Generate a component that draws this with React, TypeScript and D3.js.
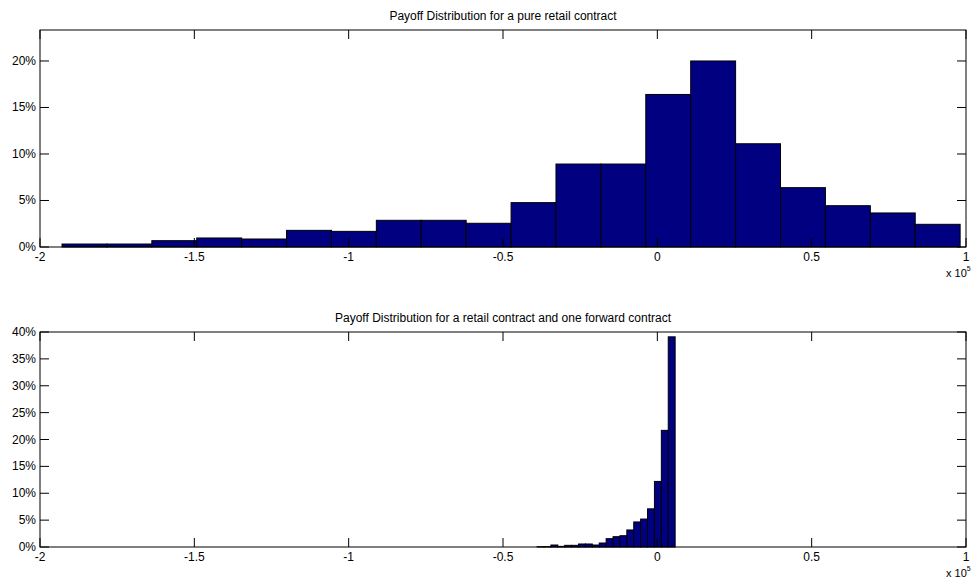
import React from "react";
import * as d3 from "d3";

// bin counts (share of scenarios)
const retailShares = [
	0.0032, 0.0032, 0.0068, 0.0097, 0.0086, 0.0179, 0.0168, 0.0287, 0.0287, 0.0255,
	0.0477, 0.0892, 0.0892, 0.164, 0.2, 0.111, 0.0638, 0.0444, 0.0366, 0.0244,
];
const retailRange = [-1.9287, 0.981]; // x 10^5

const hedgedShares = [
	0.0006, 0.0006, 0.0037, 0.0012, 0.0031, 0.0031, 0.0056, 0.0056, 0.0037, 0.0074,
	0.0155, 0.0192, 0.021, 0.0317, 0.0466, 0.052, 0.071, 0.122, 0.217, 0.391,
];
const hedgedRange = [-0.3895, 0.0577];

const xTicks = [-2, -1.5, -1, -0.5, 0, 0.5, 1];
const topYTicks = [0, 0.05, 0.1, 0.15, 0.2];
const bottomYTicks = [0, 0.05, 0.1, 0.15, 0.2, 0.25, 0.3, 0.35, 0.4];

const W = 972;
const H = 587;
const font = "'Liberation Sans', Arial, sans-serif";
const TICK = 9;

const Panel = ({ title, shares, range, yMax, yTicks, top, bottom }) => {
	const x = d3.scaleLinear().domain([-2, 1]).range([40, 966]);
	const y = d3.scaleLinear().domain([0, yMax]).range([bottom, top]);
	const n = shares.length;
	const step = (range[1] - range[0]) / n;
	const bins = shares.map((v, i) => ({ x0: range[0] + i * step, x1: range[0] + (i + 1) * step, v }));
	const pct = d3.format(".0%");
	const [x0, x1] = x.range();

	return (
		<g>
			<text x={503} y={top - 10} textAnchor="middle" fontSize={12} fontFamily={font} fill="#000">
				{title}
			</text>
			{bins.map((b, i) => (
				<rect
					key={i}
					x={x(b.x0)}
					y={y(b.v)}
					width={x(b.x1) - x(b.x0)}
					height={y(0) - y(b.v)}
					fill="#000080"
					stroke="#000"
					strokeWidth={1}
				/>
			))}
			<rect x={x0} y={top} width={x1 - x0} height={bottom - top} fill="none" stroke="#000" strokeWidth={1} />
			{xTicks.map((t) => (
				<g key={t}>
					<line x1={x(t)} x2={x(t)} y1={bottom} y2={bottom - TICK} stroke="#000" />
					<line x1={x(t)} x2={x(t)} y1={top} y2={top + TICK} stroke="#000" />
					<text x={x(t)} y={bottom + 14} textAnchor="middle" fontSize={12} fontFamily={font} fill="#000">
						{String(t)}
					</text>
				</g>
			))}
			{yTicks.map((t) => (
				<g key={t}>
					<line x1={x0} x2={x0 + TICK} y1={y(t)} y2={y(t)} stroke="#000" />
					<line x1={x1} x2={x1 - TICK} y1={y(t)} y2={y(t)} stroke="#000" />
					<text x={36} y={y(t) + 4} textAnchor="end" fontSize={12} fontFamily={font} fill="#000">
						{pct(t)}
					</text>
				</g>
			))}
			<text x={946} y={bottom + 30} fontSize={11} fontFamily={font} fill="#000">
				x 10
				<tspan fontSize={7} dy={-6}>
					5
				</tspan>
			</text>
		</g>
	);
};

const App = () => (
	<svg width={W} height={H} style={{ position: "absolute", left: 0, top: 0, background: "#fff" }}>
		<Panel
			title="Payoff Distribution for a pure retail contract"
			shares={retailShares}
			range={retailRange}
			yMax={0.2333}
			yTicks={topYTicks}
			top={30}
			bottom={247}
		/>
		<Panel
			title="Payoff Distribution for a retail contract and one forward contract"
			shares={hedgedShares}
			range={hedgedRange}
			yMax={0.4}
			yTicks={bottomYTicks}
			top={332}
			bottom={547}
		/>
	</svg>
);

export default App;
